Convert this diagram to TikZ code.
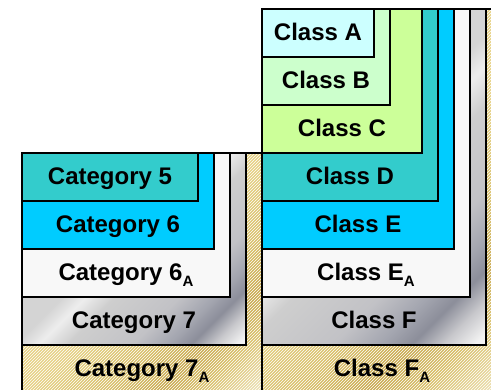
\documentclass[tikz,border=0pt]{standalone}
\usepackage{fontspec}
\setmainfont{Liberation Sans}
\usepackage{tikz}
\usetikzlibrary{patterns}

\definecolor{paleCyan}{HTML}{CCFFFF}
\definecolor{paleGreen}{HTML}{CCFFCC}
\definecolor{paleLime}{HTML}{CCFF99}
\definecolor{tealBox}{HTML}{33CCCC}
\definecolor{sky}{HTML}{00CCFF}
\definecolor{offWhite}{HTML}{F8F8F8}

% metallic and gold bands (diagonal, dark near the lower right)
\definecolor{steelA}{HTML}{D4D4D4}
\definecolor{steelB}{HTML}{EDEDED}
\definecolor{steelC}{HTML}{CECECE}
\definecolor{steelD}{HTML}{C2C2C6}
\definecolor{steelE}{HTML}{A4A6B0}
\definecolor{steelF}{HTML}{8C8E9A}
\definecolor{steelG}{HTML}{C8C8CC}
\definecolor{steelH}{HTML}{F2F2F2}
\pgfdeclarehorizontalshading{steelShade}{100bp}{
    color(0bp)=(steelA); color(46bp)=(steelA);
    color(50bp)=(steelB); color(55bp)=(steelC);
    color(66bp)=(steelD); color(72bp)=(steelE);
    color(76bp)=(steelF); color(80bp)=(steelG);
    color(84bp)=(steelH); color(100bp)=(steelH)}
\definecolor{goldA}{HTML}{E6D286}
\definecolor{goldB}{HTML}{D9C06A}
\definecolor{goldC}{HTML}{C9AA50}
\definecolor{goldD}{HTML}{ECE0B2}
\pgfdeclarehorizontalshading{goldShade}{100bp}{
    color(0bp)=(goldA); color(50bp)=(goldA);
    color(62bp)=(goldB); color(70bp)=(goldC);
    color(76bp)=(goldB); color(84bp)=(goldD); color(100bp)=(goldD)}

\newcommand{\lowA}{\raisebox{-6pt}{\fontsize{15}{15}\selectfont A}}

\begin{document}
\begin{tikzpicture}[
    x = 1pt, y = -1pt, % pixel grid, y down
    box/.style = {draw = black, line width = 2.8pt},
    hatch/.style = {pattern = north east lines, pattern color = white,
        fill opacity = 0.15},
    gold/.style = {shading = goldShade, shading angle = -45,
        postaction = {hatch}, postaction = {box}},
    steel/.style = {box, shading = steelShade, shading angle = -45},
    lbl/.style = {anchor = base, inner sep = 0pt,
        font = \fontsize{24}{27}\selectfont\bfseries}
    ]

    \useasboundingbox (0,0) rectangle (491,390);
    \clip (0,0) rectangle (491,390);

    % category stack
    \path[gold] (22,153) rectangle (262,393);
    \draw[steel] (22,153) rectangle (246,345);
    \draw[box, fill = offWhite] (22,153) rectangle (230,297);
    \draw[box, fill = sky] (22,153) rectangle (214,249);
    \draw[box, fill = tealBox] (22,153) rectangle (198,201);

    \node[lbl] (cat5) at (110,185) {Category 5};
    \node[lbl] (cat6) at (118,233) {Category 6};
    \node[lbl] (cat6a) at (126,281) {Category 6\lowA};
    \node[lbl] (cat7) at (134,329) {Category 7};
    \node[lbl] (cat7a) at (142,377) {Category 7\lowA};

    % class stack
    \path[gold] (262,9) rectangle (502,393);
    \draw[steel] (262,9) rectangle (486,345);
    \draw[box, fill = offWhite] (262,9) rectangle (470,297);
    \draw[box, fill = sky] (262,9) rectangle (454,249);
    \draw[box, fill = tealBox] (262,9) rectangle (438,201);
    \draw[box, fill = paleLime] (262,9) rectangle (422,153);
    \draw[box, fill = paleGreen] (262,9) rectangle (390,105);
    \draw[box, fill = paleCyan] (262,9) rectangle (374,57);

    \node[lbl] (clsA) at (318,41) {Class A};
    \node[lbl] (clsB) at (326,89) {Class B};
    \node[lbl] (clsC) at (342,137) {Class C};
    \node[lbl] (clsD) at (350,185) {Class D};
    \node[lbl] (clsE) at (358,233) {Class E};
    \node[lbl] (clsEa) at (366,281) {Class E\lowA};
    \node[lbl] (clsF) at (374,329) {Class F};
    \node[lbl] (clsFa) at (382,377) {Class F\lowA};
\end{tikzpicture}
\end{document}
